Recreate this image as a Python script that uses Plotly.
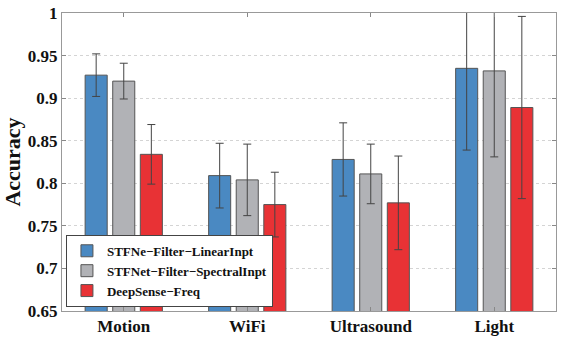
import plotly.graph_objects as go

categories = ["Motion", "WiFi", "Ultrasound", "Light"]
series_names = ["STFNe\u2212Filter\u2212LinearInpt", "STFNet\u2212Filter\u2212SpectralInpt", "DeepSense\u2212Freq"]
linear_vals = [0.927, 0.809, 0.828, 0.935]
linear_err = [0.025, 0.038, 0.043, 0.096]
spectral_vals = [0.920, 0.804, 0.811, 0.932]
spectral_err = [0.021, 0.042, 0.035, 0.101]
freq_vals = [0.834, 0.775, 0.777, 0.889]
freq_err = [0.035, 0.038, 0.055, 0.107]
colors = ["#4a89c2", "#b1b2b6", "#e83235"]

fig = go.Figure()
for name, vals, errs, col in zip(series_names,
                                 [linear_vals, spectral_vals, freq_vals],
                                 [linear_err, spectral_err, freq_err], colors):
    fig.add_trace(go.Bar(
        x=categories, y=vals, name=name,
        marker=dict(color=col, line=dict(color="#555555", width=1)),
        error_y=dict(type="data", array=errs, visible=True, color="#444444",
                     thickness=1, width=4),
    ))

font_family = "Liberation Serif"
fig.update_layout(
    width=561, height=342,
    margin=dict(l=62, r=5, t=13, b=31),
    paper_bgcolor="white", plot_bgcolor="white",
    barmode="group", bargap=0.33, bargroupgap=0.2,
    font=dict(family=font_family, color="#111111"),
    showlegend=True,
    legend=dict(x=0.008, y=0.014, xanchor="left", yanchor="bottom",
                bgcolor="white", bordercolor="#444444", borderwidth=1,
                font=dict(family=font_family, size=13, color="#111111", weight="bold"),
                tracegroupgap=0, itemwidth=30),
    xaxis=dict(range=[-0.5, 3.5], showline=True, linecolor="#999999", linewidth=1,
               mirror="ticks", ticks="inside", ticklen=4, tickcolor="#888888",
               tickfont=dict(family=font_family, size=17, color="#111111", weight="bold"),
               showgrid=False),
    yaxis=dict(range=[0.65, 1.0], dtick=0.05, tick0=0.65, showline=True,
               linecolor="#999999", linewidth=1, mirror="ticks", ticks="inside",
               ticklen=4, tickcolor="#888888",
               showgrid=True, gridcolor="#d4d4d4", griddash="dot", gridwidth=1,
               tickfont=dict(family=font_family, size=17, color="#111111", weight="bold"),
               title=dict(text="Accuracy", standoff=4,
                          font=dict(family=font_family, size=22, color="#111111", weight="bold"))),
)
fig.write_html("out.html", config={"displayModeBar": False},
               post_script="document.body.style.margin='0';")
